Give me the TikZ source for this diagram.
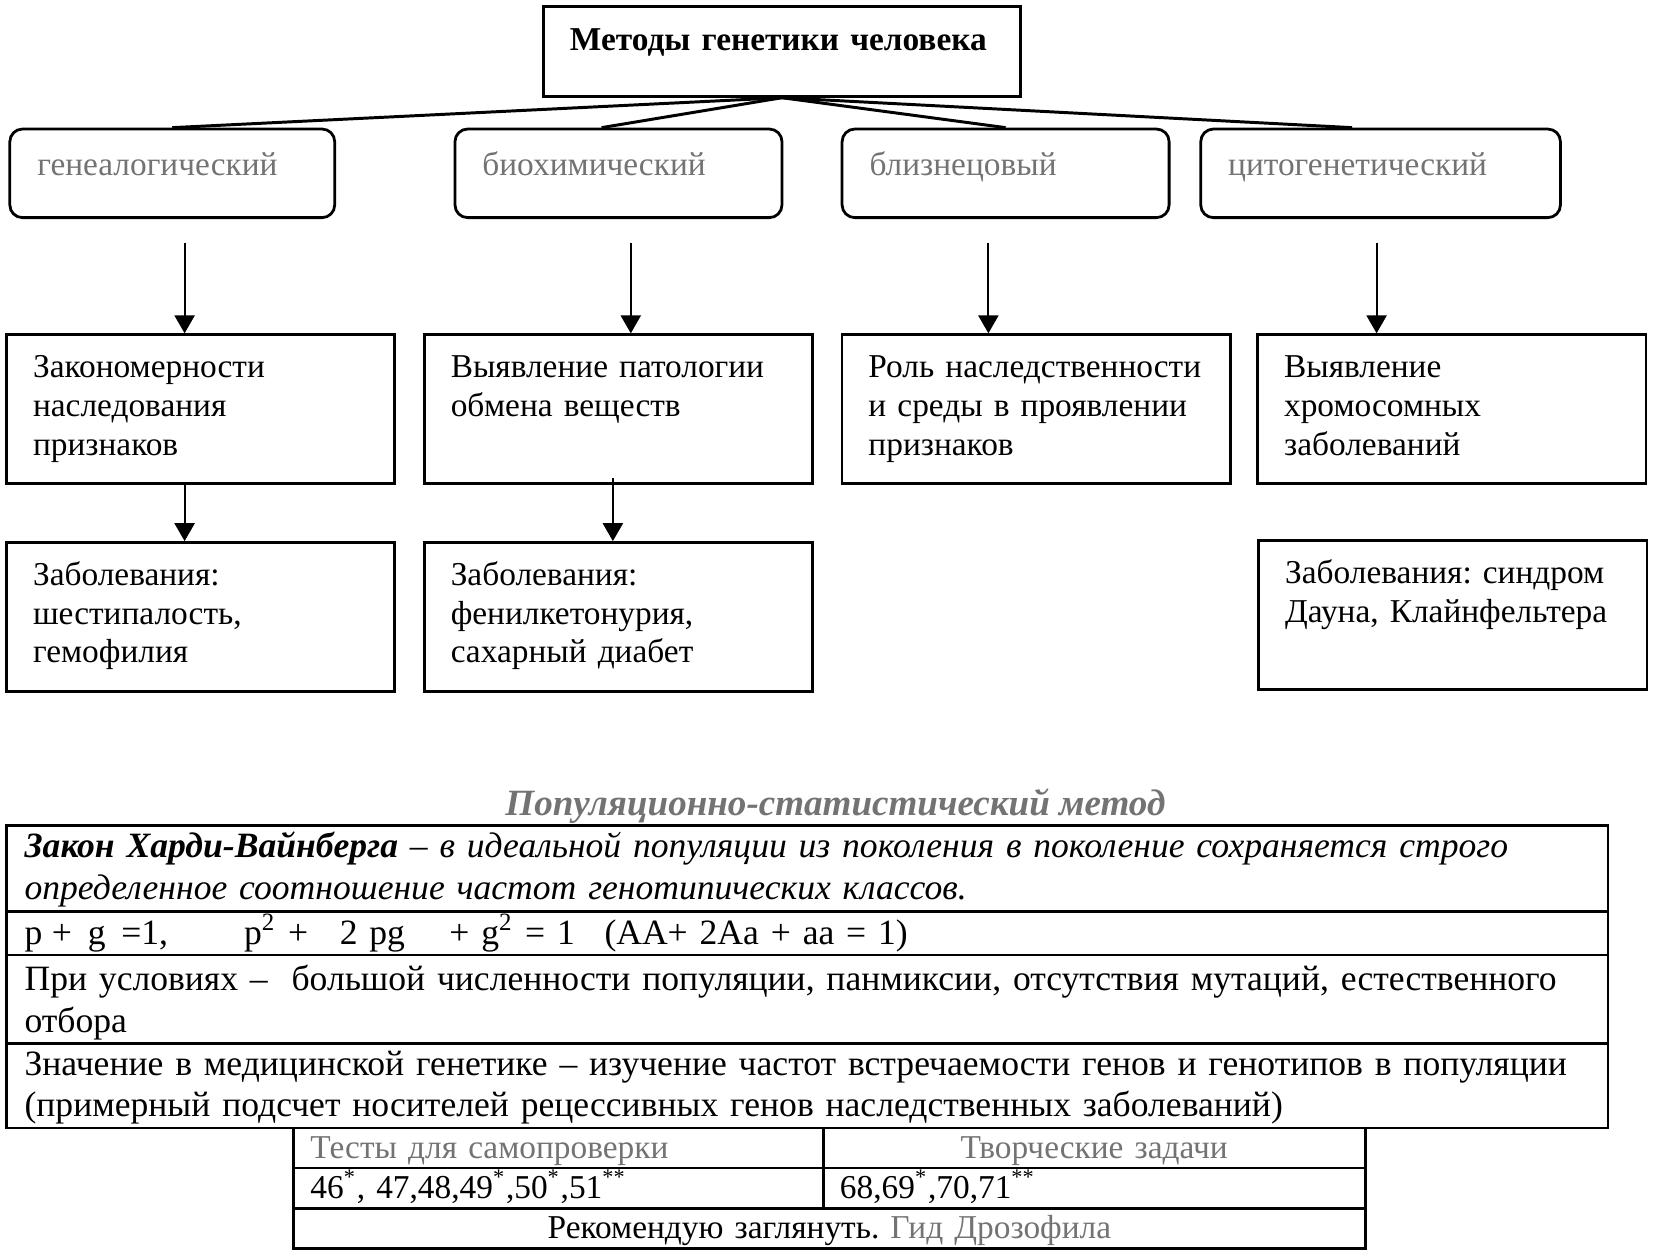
\documentclass[tikz,border=0pt]{standalone}
\usepackage{fontspec}
\setmainfont{Liberation Serif}
\usetikzlibrary{arrows.meta}
\frenchspacing
\definecolor{labelgray}{RGB}{115,115,115}
\newcommand{\boxfont}{\fontsize{9pt}{10.4pt}\selectfont}
\newcommand{\gridfont}{\fontsize{9.6pt}{11.2pt}\selectfont}

\begin{document}
\begin{tikzpicture}[
        x=0.1mm, y=-0.1mm,
        >={Triangle[width=1.9mm,length=1.7mm]},
        every node/.style={
            anchor=north west,
            align=left,
            inner ysep=0pt,
            line width=0.75pt,
            font=\boxfont
        },
        head/.style={draw, inner xsep=2.5mm, text width=40.2mm,
            text height=4.2mm, text depth=4.3mm, font=\boxfont\bfseries},
        method/.style={draw, rounded corners=1.2mm, text=labelgray,
            inner xsep=2.6mm, text height=4.4mm, text depth=4mm},
        info/.style={draw, inner xsep=2.5mm, text width=31.8mm,
            text height=4.1mm, text depth=10mm},
        row/.style={draw, inner xsep=1.7mm, text width=148.4mm, font=\gridfont},
        cell/.style={draw, inner xsep=1.6mm, text height=2.9mm, text depth=0.9mm}
    ]

        \useasboundingbox (0,0) rectangle (1568,1191);

        \node[head] (methods) at (514,5)
        {Методы генетики человека};

        \node[method, text width=25.6mm] (gen) at (8,121)
        {генеалогический};

        \node[method, text width=25.8mm] (bio) at (430,121)
        {биохимический};

        \node[method, text width=25.8mm] (twin) at (797,121)
        {близнецовый};

        \node[method, text width=28.9mm] (cyto) at (1137,121)
        {цитогенетический};

        \node[info] (genres) at (5,316)
        {Закономерности\\наследования\\признаков};

        \node[info] (biores) at (401,316)
        {Выявление патологии\\обмена веществ};

        \node[info] (twinres) at (797,316)
        {Роль наследственности\\и среды в проявлении\\признаков};

        \node[info] (cytores) at (1191,316)
        {Выявление\\хромосомных\\заболеваний};

        \node[info] (gendis) at (5,513)
        {Заболевания:\\шестипалость,\\гемофилия};

        \node[info] (biodis) at (401,513)
        {Заболевания:\\фенилкетонурия,\\сахарный диабет};

        \node[info] (cytodis) at (1192,511)
        {Заболевания: синдром\\Дауна, Клайнфельтера};

        \node[anchor=base, inner sep=0pt, text=labelgray,
            font=\fontsize{10pt}{12pt}\selectfont\bfseries\itshape] (poptitle) at (792,773)
        {Популяционно-статистический метод};

        \node[row, font=\gridfont\itshape, text height=3.1mm, text depth=5.1mm] (law) at (5,781)
        {\textbf{Закон Харди-Вайнберга} – в идеальной популяции из поколения в поколение сохраняется строго\\определенное соотношение частот генотипических классов.};

        \node[row, text height=3.1mm, text depth=1mm] (formula) at (5,863)
        {p\hspace{0.9mm}+\hspace{1.5mm}g\hspace{1.5mm}=1,\hspace{7.2mm}p\textsuperscript{2} +\hspace{3mm}2 pg\hspace{4.2mm}+ g\textsuperscript{2} = 1\hspace{2.8mm}(AA+ 2Aa + aa = 1)};

        \node[row, text height=3.4mm, text depth=5mm] (terms) at (5,904)
        {При условиях –\ \ большой численности популяции, панмиксии, отсутствия мутаций, естественного\\отбора};

        \node[row, text height=3mm, text depth=5mm] (meaning) at (5,988)
        {Значение в медицинской генетике – изучение частот встречаемости генов и генотипов в популяции\\(примерный подсчет носителей рецессивных генов наследственных заболеваний)};

        \node[cell, text width=47mm, text=labelgray] (tests) at (277,1068)
        {Тесты для самопроверки};

        \node[cell, text width=48.2mm, text=labelgray, align=center] (tasks) at (779,1068)
        {Творческие задачи};

        \node[cell, text width=47mm] (testnums) at (277,1106)
        {46\textsuperscript{*}, 47,48,49\textsuperscript{*},50\textsuperscript{*},51\textsuperscript{**}};

        \node[cell, text width=48.2mm] (tasknums) at (779,1106)
        {68,69\textsuperscript{*},70,71\textsuperscript{**}};

        \node[cell, text width=98.4mm, align=center] (advice) at (277,1144)
        {Рекомендую заглянуть. \textcolor{labelgray}{Гид Дрозофила}};

        \coordinate (genarrow) at (175,230);
        \coordinate (bioarrow) at (598,230);
        \coordinate (twinarrow) at (937,230);
        \coordinate (cytoarrow) at (1305,230);
        \coordinate (biodown) at (581,453);

        \draw[line width=0.8pt] (methods.south) -- (gen.north);
        \draw[line width=0.8pt] (methods.south) -- ([xshift=-1.6mm]bio.north);
        \draw[line width=0.8pt] (methods.south) -- (twin.north);
        \draw[line width=0.8pt] (methods.south) -- ([xshift=-2.7mm]cyto.north);

        \draw[->, line width=0.55pt] (genarrow) -- (genarrow |- genres.north);
        \draw[->, line width=0.55pt] (bioarrow) -- (bioarrow |- biores.north);
        \draw[->, line width=0.55pt] (twinarrow) -- (twinarrow |- twinres.north);
        \draw[->, line width=0.55pt] (cytoarrow) -- (cytoarrow |- cytores.north);
        \draw[->, line width=0.55pt] (genarrow |- genres.south) -- (genarrow |- gendis.north);
        \draw[->, line width=0.55pt] (biodown) -- (biodown |- biodis.north);

    \end{tikzpicture}
\end{document}
